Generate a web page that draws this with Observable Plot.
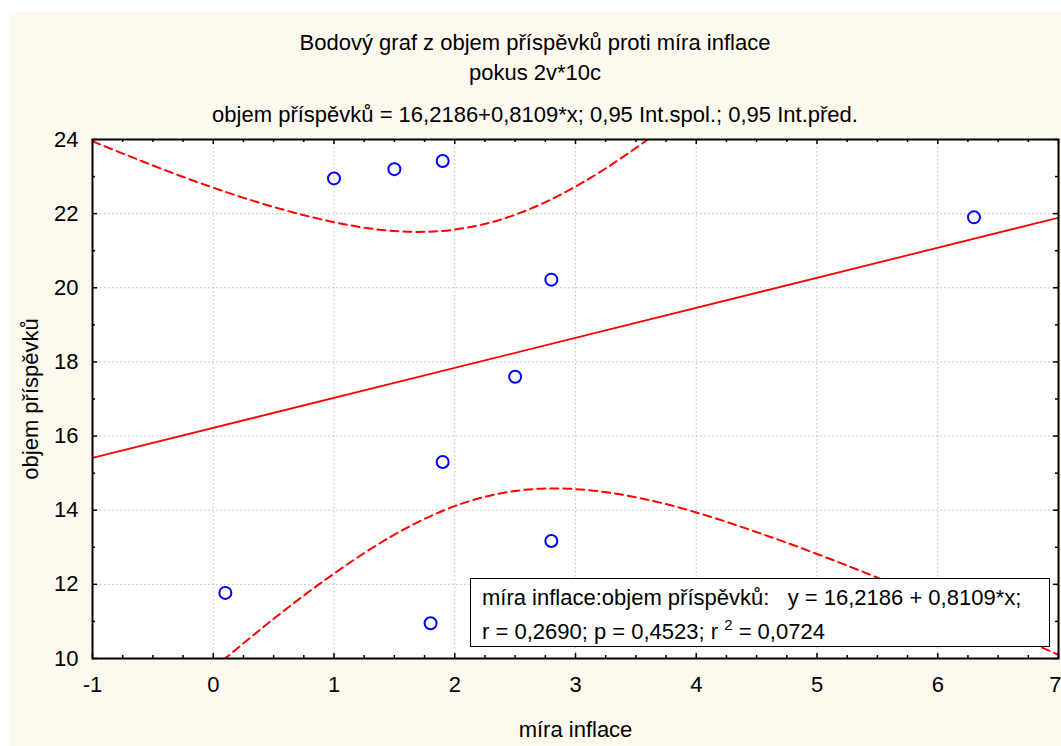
<!DOCTYPE html>
<html>
<head>
<meta charset="utf-8">
<script src="https://cdn.jsdelivr.net/npm/d3@7"></script>
<script src="https://cdn.jsdelivr.net/npm/@observablehq/plot@0.6"></script>
<style>
  html, body { margin: 0; padding: 0; background: #ffffff; }
  #page { position: relative; width: 1061px; height: 746px; overflow: hidden;
          font-family: "Liberation Sans", Arial, sans-serif; color: #000; }
  #panel { position: absolute; left: 9px; top: 12px; right: 0; bottom: 0; background: #fdf9ef; }
  .t { position: absolute; left: 9px; right: 0; text-align: center; font-size: 22px;
       line-height: 22px; white-space: nowrap; }
  #chart { position: absolute; left: 0; top: 0; }
  #legend { position: absolute; left: 470px; top: 578px; width: 580px; height: 69px;
            box-sizing: border-box; border: 1.5px solid #000; background: #fff;
            font-size: 22px; line-height: 34px; padding: 2px 0 0 11px; white-space: nowrap; }
  #legend sup { font-size: 15px; vertical-align: 0; position: relative; top: -9px; }
</style>
</head>
<body>
<div id="page">
  <div id="panel"></div>
  <div class="t" id="t1" style="top:32px"></div>
  <div class="t" id="t2" style="top:62px"></div>
  <div class="t" id="t3" style="top:104px"></div>
  <div id="chart"></div>
  <div id="legend"></div>
</div>
<script>
// ---- text ----
const titleLines = [
  "Bodový graf z objem příspěvků proti míra inflace",
  "pokus 2v*10c",
  "objem příspěvků = 16,2186+0,8109*x; 0,95 Int.spol.; 0,95 Int.před."
];
const xLabel = "míra inflace";
const yLabel = "objem příspěvků";
const legendLine1 = "míra inflace:objem příspěvků:\u00a0\u00a0\u00a0y = 16,2186 + 0,8109*x;";
const legendLine2a = "r = 0,2690; p = 0,4523; r ";
const legendSup = "2";
const legendLine2b = " = 0,0724";

// ---- data ----
const pointX = [1.0, 1.5, 1.9, 2.8, 6.3, 2.5, 1.9, 2.8, 0.1, 1.8];
const pointY = [22.95, 23.2, 23.42, 20.22, 21.9, 17.6, 15.3, 13.17, 11.77, 10.95];

const regX = [-1, 7];
const regY = [15.41, 21.89];

const upperX = [-1, -0.5, 0, 0.5, 1, 1.5, 2, 2.5, 3, 3.5, 4];
const upperY = [23.95, 23.3, 22.7, 22.18, 21.77, 21.53, 21.57, 21.97, 22.73, 23.77, 24.98];

const lowerX = [0, 0.5, 1, 1.5, 2, 2.5, 3, 3.5, 4, 4.5, 5, 5.5, 6, 6.5, 7];
const lowerY = [9.73, 11.07, 12.29, 13.34, 14.11, 14.52, 14.57, 14.35, 13.94, 13.41, 12.82, 12.18, 11.5, 10.81, 10.1];

// ---- ticks ----
const xTicks = [-1, 0, 1, 2, 3, 4, 5, 6, 7];
const yTicks = [10, 12, 14, 16, 18, 20, 22, 24];
const xGrid = [0, 1, 2, 3, 4, 5, 6];
const yGrid = [12, 14, 16, 18, 20, 22];
const xMinor = d3.range(-0.75, 7, 0.25).filter(v => !xTicks.includes(v));
const yMinor = [11, 13, 15, 17, 19, 21, 23];

// ---- build ----
document.getElementById("t1").textContent = titleLines[0];
document.getElementById("t2").textContent = titleLines[1];
document.getElementById("t3").textContent = titleLines[2];
const lg = document.getElementById("legend");
const l1 = document.createElement("div"); l1.textContent = legendLine1; lg.appendChild(l1);
const l2 = document.createElement("div");
l2.appendChild(document.createTextNode(legendLine2a));
const sp = document.createElement("sup"); sp.textContent = legendSup; l2.appendChild(sp);
l2.appendChild(document.createTextNode(legendLine2b));
lg.appendChild(l2);

const points = pointX.map((x, i) => ({x, y: pointY[i]}));
const reg = regX.map((x, i) => ({x, y: regY[i]}));
const upper = upperX.map((x, i) => ({x, y: upperY[i]}));
const lower = lowerX.map((x, i) => ({x, y: lowerY[i]}));

const W = 1061, H = 746, mL = 92, mR = 3, mT = 139, mB = 88;
const fw = W - mL - mR, fh = H - mT - mB;
const red = "#ff0000";
const gridStyle = {stroke: "#bdbdbd", strokeWidth: 1, strokeDasharray: "1.5,2.5"};
const axisFont = "Liberation Sans, Arial, sans-serif";

const chart = Plot.plot({
  width: W, height: H,
  marginLeft: mL, marginRight: mR, marginTop: mT, marginBottom: mB,
  style: {background: "transparent", fontFamily: axisFont, fontSize: "22px", color: "#000", overflow: "visible"},
  x: {domain: [-1, 7]},
  y: {domain: [10, 24]},
  marks: [
    Plot.frame({fill: "white", stroke: null}),
    Plot.ruleX(xGrid, gridStyle),
    Plot.ruleY(yGrid, gridStyle),
    Plot.line(upper, {x: "x", y: "y", stroke: red, strokeWidth: 2, strokeDasharray: "8,5", curve: "natural", clip: true}),
    Plot.line(lower, {x: "x", y: "y", stroke: red, strokeWidth: 2, strokeDasharray: "8,5", curve: "natural", clip: true}),
    Plot.line(reg, {x: "x", y: "y", stroke: red, strokeWidth: 1.8, clip: true}),
    Plot.dot(points, {x: "x", y: "y", r: 6, stroke: "#0000ff", strokeWidth: 2, fill: "none"}),
    // inward ticks
    Plot.ruleX(xTicks, {stroke: "#000", strokeWidth: 1.5, insetTop: fh - 5}),
    Plot.ruleX(xTicks, {stroke: "#000", strokeWidth: 1.5, insetBottom: fh - 5}),
    Plot.ruleX(xMinor, {stroke: "#000", strokeWidth: 1.5, insetTop: fh - 3}),
    Plot.ruleX(xMinor, {stroke: "#000", strokeWidth: 1.5, insetBottom: fh - 3}),
    Plot.ruleY(yTicks, {stroke: "#000", strokeWidth: 1.5, insetRight: fw - 5}),
    Plot.ruleY(yTicks, {stroke: "#000", strokeWidth: 1.5, insetLeft: fw - 5}),
    Plot.ruleY(yMinor, {stroke: "#000", strokeWidth: 1.5, insetRight: fw - 3}),
    Plot.ruleY(yMinor, {stroke: "#000", strokeWidth: 1.5, insetLeft: fw - 3}),
    Plot.frame({stroke: "#000", strokeWidth: 2}),
    Plot.axisX(xTicks.slice(0, -1), {anchor: "bottom", tickSize: 0, tickPadding: 18, tickFormat: d => String(d),
      label: xLabel, labelAnchor: "center", labelOffset: 78, labelArrow: "none"}),
    Plot.axisX(xTicks.slice(-1), {anchor: "bottom", tickSize: 0, tickPadding: 18, tickFormat: d => String(d),
      textAnchor: "end", dx: 3, label: null}),
    Plot.axisY(yTicks, {anchor: "left", tickSize: 0, tickPadding: 14, tickFormat: d => String(d),
      label: yLabel, labelAnchor: "center", labelOffset: 70, labelArrow: "none"})
  ]
});
document.getElementById("chart").appendChild(chart);
</script>
</body>
</html>
